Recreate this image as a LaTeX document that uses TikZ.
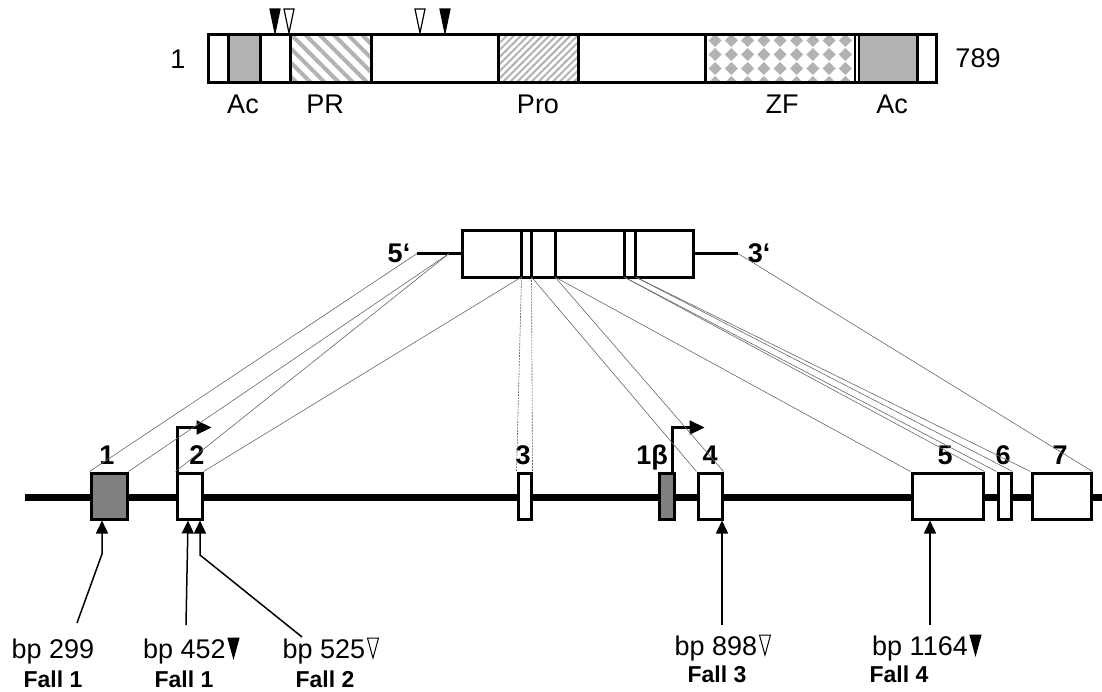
\documentclass[tikz,border=0pt]{standalone}
\usepackage{fontspec}
\setmainfont{Liberation Sans}
\usetikzlibrary{positioning,calc,arrows.meta,patterns.meta}

\tikzset{
  exon/.style={draw, line width=3pt, fill=white, minimum height=46pt, inner sep=0pt},
  exdark/.style={exon, fill=black!50},
  exlab/.style={font=\fontsize{27}{32}\selectfont\bfseries, anchor=base, inner sep=0pt},
  plainlab/.style={font=\fontsize{27}{32}\selectfont, anchor=base, inner sep=0pt},
  caselab/.style={font=\fontsize{23}{27}\selectfont\bfseries, anchor=base, inner sep=0pt},
  maplink/.style={black!60, line width=0.6pt},
  mapdot/.style={maplink, dash pattern=on 2pt off 1pt},
  hit/.style={line width=1.5pt, -{Triangle[length=13pt,width=12pt]}},
  prom/.style={line width=2.2pt, -{Triangle[length=15pt,width=14pt]}},
}
% narrow cut-site triangle behind a label
\newcommand{\cuttri}[2]{\filldraw[fill=#2, line width=1pt] ($(#1.base east)+(2,-20)$) -- ++(11,0) -- ++(-5.5,20) -- cycle;}

\begin{document}
\begin{tikzpicture}[x=1pt,y=-1pt]
\useasboundingbox (0,0) rectangle (1102,691);

% protein with domains
\fill[black!30] (228,34) rectangle (260,82);
\fill[black!30] (858,34) rectangle (917,82);
\fill[pattern={Lines[angle=-45,distance=10pt,line width=4pt]}, pattern color=black!30] (290,34) rectangle (371,82);
\fill[pattern={Lines[angle=45,distance=5pt,line width=2pt]}, pattern color=black!30] (498,34) rectangle (578,82);
\begin{scope}
  \clip (705,34) rectangle (855,82);
  \foreach \i in {0,...,8}
    \foreach \j in {0,...,3}
      \fill[black!30] ({715+16.3*\i},{40.5+14*\j}) ++(-6.5,0) -- ++(6.5,-6.5) -- ++(6.5,6.5) -- ++(-6.5,6.5) -- cycle;
\end{scope}
\draw[line width=3pt] (208,34) rectangle (936,82);
\foreach \x in {228,260,290,371,498,578,705,917}
  \draw[line width=3pt] (\x,34) -- (\x,82);
\draw[line width=2pt] (854.5,34) -- (854.5,82);
\draw[line width=2pt] (858.5,34) -- (858.5,82);
\foreach \x/\col in {275/black,445/black,289/white,420/white}
  \filldraw[fill=\col, line width=1.2pt] (\x-5,9) -- (\x+5,9) -- (\x,33) -- cycle;
\node[plainlab] (n1) at (178,68) {1};
\node[plainlab] (n789) at (978,67) {789};
\foreach \x/\t/\nm in {243/Ac/dAcN, 325/PR/dPR, 538/Pro/dPro, 782/ZF/dZF, 892/Ac/dAcC}
  \node[plainlab] (\nm) at (\x,113) {\t};

% mRNA
\node[draw, line width=3pt, minimum width=231pt, minimum height=47pt, inner sep=0pt] (mrna) at (577.5,253.5) {};
\foreach \x in {521.5,531.5,555,624,635.5}
  \draw[line width=3pt] (\x,230) -- (\x,277);
\coordinate (p5) at (417,253.5);
\coordinate (p3) at (738,253.5);
\coordinate (q5) at (449,253.5);
\coordinate (s1) at (521.5,277);
\coordinate (s2) at (531.5,277);
\coordinate (s3) at (555,277);
\coordinate (s4) at (624,277);
\coordinate (s5) at (635.5,277);
\draw[line width=3pt] (p5) -- (mrna.west);
\draw[line width=3pt] (mrna.east) -- (p3);
\node[exlab] (t5) at (399,262) {5‘};
\node[exlab] (t3) at (759,262) {3‘};

% gene
\coordinate (gL) at (25,497);
\coordinate (gR) at (1102,497);
\draw[line width=7pt] (gL) -- (gR);
\foreach \nm/\x/\w/\st in {e1/109/36/exdark, e2/189.5/25/exon, e3/524.5/13/exon, e1b/666.5/15/exdark,
    e4/710/24/exon, e5/947.5/71/exon, e6/1004.5/13/exon, e7/1061.5/59/exon}
  \node[\st, minimum width=\w pt] (\nm) at (\x,496) {};
\foreach \nm/\x/\t in {l1/107/1, l2/197/2, l3/523/3, l1b/652/1β, l4/710/4, l5/945/5, l6/1003/6, l7/1060/7}
  \node[exlab] (\nm) at (\x,464) {\t};
\draw[prom] ([xshift=2pt]e2.north west) |- ++(34,-44);
\draw[prom] ([xshift=-3pt]e1b.north east) |- ++(32,-44);

% exon borders in the mRNA
\draw[maplink] (p5) -- (e1.north west);
\draw[maplink] (q5) -- (e1.north east);
\draw[maplink] (q5) -- (e2.north west);
\draw[maplink] (s1) -- (e2.north east);
\draw[mapdot] (s1) -- (e3.north west);
\draw[mapdot] (s2) -- (e3.north east);
\draw[maplink] (s2) -- (e4.north west);
\draw[maplink] (s3) -- (e4.north east);
\draw[maplink] (s3) -- (e5.north west);
\draw[maplink] (s4) -- (e5.north east);
\draw[maplink] (s4) -- (e6.north west);
\draw[maplink] (s5) -- (e6.north east);
\draw[maplink] (s5) -- (e7.north west);
\draw[maplink] (p3) -- (e7.north east);

% break points
\coordinate (k1a) at (77,623);
\coordinate (k1b) at (102,554);
\coordinate (k2a) at (186,625);
\coordinate (k3a) at (302,637);
\coordinate (k3b) at (200,555);
\coordinate (k4a) at (722,625);
\coordinate (k5a) at (930,625);
\draw[hit] (k1a) -- (k1b) -- (k1b |- e1.south);
\draw[hit] (k2a) -- ([xshift=-1.5pt]e2.south);
\draw[hit] (k3a) -- (k3b) -- (k3b |- e2.south);
\draw[hit] (k4a) -- (k4a |- e4.south);
\draw[hit] (k5a) -- (k5a |- e5.south);

\node[plainlab] (bp1) at (53,658) {bp 299};
\node[plainlab] (bp2) at (184.5,658) {bp 452};
\node[plainlab] (bp3) at (324,658) {bp 525};
\node[plainlab] (bp4) at (716,655) {bp 898};
\node[plainlab] (bp5) at (920,655) {bp 1164};
\cuttri{bp2}{black}
\cuttri{bp3}{white}
\cuttri{bp4}{white}
\cuttri{bp5}{black}
\node[caselab] (f1) at (53,687) {Fall 1};
\node[caselab] (f2) at (184,687) {Fall 1};
\node[caselab] (f3) at (325,687) {Fall 2};
\node[caselab] (f4) at (717,682) {Fall 3};
\node[caselab] (f5) at (899,682) {Fall 4};
\end{tikzpicture}
\end{document}
